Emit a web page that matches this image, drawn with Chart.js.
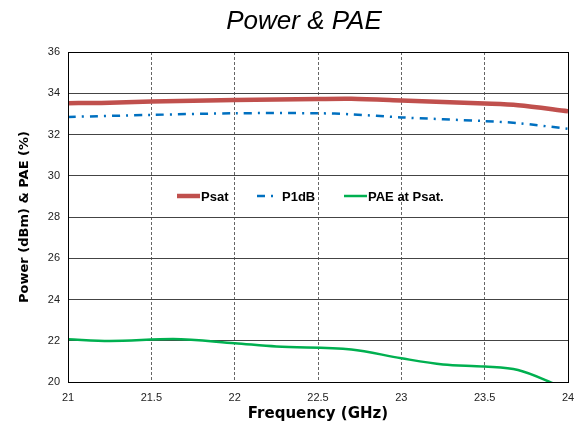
<!DOCTYPE html>
<html><head><meta charset="utf-8">
<script src="https://cdn.jsdelivr.net/npm/chart.js@4/dist/chart.umd.min.js"></script>
<style>html,body{margin:0;padding:0;background:#fff}#wrap{width:579px;height:423px}</style>
</head><body><div id="wrap"><canvas id="c" width="579" height="423"></canvas></div>
<script>
const titleText = "Power & PAE";
const xTitle = "Frequency (GHz)";
const yTitle = "Power (dBm) & PAE (%)";
const xTicks = [21, 21.5, 22, 22.5, 23, 23.5, 24];
const yTicks = [20, 22, 24, 26, 28, 30, 32, 34, 36];

const psatFreq = [21, 21.2, 21.5, 22, 22.5, 22.7, 23, 23.5, 23.7, 24];
const psat     = [33.52, 33.53, 33.6, 33.67, 33.72, 33.73, 33.65, 33.5, 33.42, 33.13];

const p1dbFreq = [21, 21.5, 22, 22.5, 22.7, 23, 23.5, 23.7, 24];
const p1db     = [32.85, 32.95, 33.03, 33.03, 32.98, 32.83, 32.65, 32.55, 32.28];

const paeFreq = [21, 21.25, 21.63, 22, 22.25, 22.7, 23, 23.25, 23.5, 23.7, 23.9, 24];
const pae     = [22.07, 21.99, 22.08, 21.88, 21.72, 21.58, 21.15, 20.85, 20.75, 20.58, 19.97, 19.6];

const pts = (xs, ys) => xs.map((x, i) => ({x, y: ys[i]}));

const legendPlugin = {
  id: 'inLegend',
  afterDatasetsDraw(chart) {
    const ctx = chart.ctx;
    const ds = chart.data.datasets;
    const xPos = [177, 257, 344];
    const lineLen = [23, 20, 23];
    const y = 196;
    ctx.save();
    ctx.font = 'bold 13px "Liberation Sans", Arial, sans-serif';
    ctx.textBaseline = 'middle';
    ds.forEach((d, i) => {
      ctx.beginPath();
      ctx.strokeStyle = d.borderColor;
      ctx.lineWidth = d.borderWidth;
      ctx.setLineDash(d.borderDash || []);
      ctx.lineCap = 'butt';
      ctx.moveTo(xPos[i], y);
      ctx.lineTo(xPos[i] + lineLen[i], y);
      ctx.stroke();
      ctx.setLineDash([]);
      ctx.fillStyle = '#000';
      ctx.fillText(d.label, xPos[i] + lineLen[i] + (i === 1 ? 5 : 1), y + 1);
    });
    ctx.restore();
  }
};

const titlePlugin = {
  id: 'topTitle',
  afterDraw(chart) {
    const ctx = chart.ctx;
    ctx.save();
    ctx.font = 'italic 26px "Liberation Sans", Arial, sans-serif';
    ctx.fillStyle = '#000';
    ctx.textAlign = 'center';
    ctx.textBaseline = 'middle';
    ctx.fillText(titleText, 304, 22);
    ctx.restore();
  }
};

const borderPlugin = {
  id: 'areaBorder',
  afterDraw(chart) {
    const a = chart.chartArea, ctx = chart.ctx;
    ctx.save();
    ctx.strokeStyle = '#000';
    ctx.lineWidth = 1;
    ctx.strokeRect(Math.round(a.left) + 0.5, Math.round(a.top) + 0.5, Math.round(a.right - a.left), Math.round(a.bottom - a.top));
    ctx.restore();
  }
};

new Chart(document.getElementById('c'), {
  type: 'line',
  data: {
    datasets: [
      { label: 'Psat', data: pts(psatFreq, psat), borderColor: '#C0504D', borderWidth: 4.5, pointRadius: 0, tension: 0.3, order: 3 },
      { label: 'P1dB', data: pts(p1dbFreq, p1db), borderColor: '#0070C0', borderWidth: 2.5, borderDash: [8, 6, 2, 6], pointRadius: 0, tension: 0.3, order: 2 },
      { label: 'PAE at Psat.', data: pts(paeFreq, pae), borderColor: '#00B050', borderWidth: 2.5, pointRadius: 0, tension: 0.4, cubicInterpolationMode: 'monotone', order: 1 }
    ]
  },
  options: {
    responsive: false,
    animation: false,
    devicePixelRatio: 1,
    layout: { padding: { top: 52, right: 11, left: 0, bottom: 0 } },
    plugins: { legend: { display: false }, title: { display: false }, tooltip: { enabled: false } },
    scales: {
      x: {
        type: 'linear', min: 21, max: 24,
        afterBuildTicks: s => { s.ticks = xTicks.map(v => ({value: v})); },
        afterFit: s => { s.height = 41; s.paddingRight = 0; s.paddingLeft = 0; },
        grid: { color: '#666', lineWidth: 1, drawTicks: false },
        border: { display: false, dash: [3, 2] },
        ticks: { color: '#222', font: { size: 11, family: '"Liberation Sans", Arial, sans-serif' }, padding: 9, maxRotation: 0, callback: v => String(v) },
        title: { display: true, text: xTitle, color: '#000', font: { size: 15, weight: 'bold', family: '"DejaVu Sans", sans-serif' }, padding: { top: 1, bottom: 0 } }
      },
      y: {
        min: 20, max: 36,
        afterBuildTicks: s => { s.ticks = yTicks.map(v => ({value: v})); },
        afterFit: s => { s.width = 68; s.paddingTop = 0; s.paddingBottom = 0; },
        grid: { color: '#444', lineWidth: 1, drawTicks: false },
        border: { display: false },
        ticks: { color: '#222', font: { size: 11, family: '"Liberation Sans", Arial, sans-serif' }, padding: 8, callback: v => String(v) },
        title: { display: true, text: yTitle, color: '#000', font: { size: 13, weight: 'bold', family: '"DejaVu Sans", sans-serif' }, padding: { top: 17, bottom: 0 } }
      }
    }
  },
  plugins: [legendPlugin, titlePlugin, borderPlugin]
});
</script>
</body></html>
